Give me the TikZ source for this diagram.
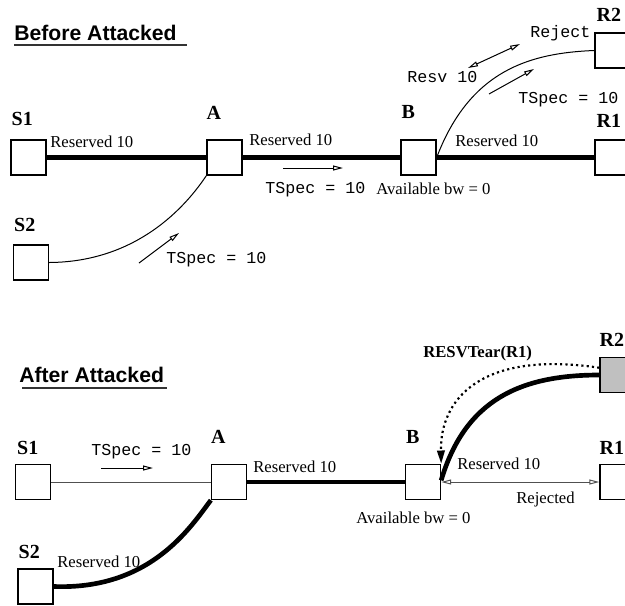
\documentclass[tikz,border=0pt]{standalone}
\usepackage{fontspec}
\setmainfont{Liberation Serif}
\setsansfont{Liberation Sans}
\setmonofont{Liberation Mono}
\usetikzlibrary{arrows.meta, positioning, calc}
\definecolor{torn}{RGB}{192, 192, 192}
\definecolor{faint}{RGB}{80, 80, 80}

\begin{document}
\begin{tikzpicture}[
  x=0.6pt, y=-0.6pt,
  box/.style={rectangle, draw, line width=0.8pt, minimum size=21pt, inner sep=0pt},
  tag/.style={inner sep=0pt, font=\bfseries\fontsize{12}{14}\selectfont},
  txt/.style={inner sep=0pt, anchor=base west, font=\fontsize{10}{12}\selectfont},
  spec/.style={inner sep=0pt, anchor=base west, font=\ttfamily\fontsize{10}{12}\selectfont},
  heading/.style={inner sep=0pt, anchor=base west, font=\sffamily\bfseries\fontsize{12.7}{15}\selectfont},
  resv/.style={line width=2.8pt},
  link/.style={line width=0.6pt},
  hint/.style={-{Triangle[open, length=6pt, width=3pt]}, line width=0.6pt},
  tear/.style={-{Triangle[length=8pt, width=4.5pt]}, line width=1.3pt, dash pattern=on 1.3pt off 1.9pt}
]
  \clip (0,0) rectangle (625,605);

  % before attacked
  \node[heading] (before) at (14,40) {Before Attacked};
  \draw[line width=1pt, black!80] ($(before.base west)+(0,-3pt)$) -- ($(before.base east)+(6pt,-3pt)$);

  \node[box] (s1) at (28.5,157.5) {};
  \node[box] (a) at (224.5,157.5) {};
  \node[box] (b) at (418.5,157.5) {};
  \node[box] (r1) at (612.5,157.5) {};
  \node[box] (r2) at (612.5,50.5) {};
  \node[box] (s2) at (31,262.5) {};

  \node[tag, above right=7.8pt and 0.6pt of s1.north west] (s1-tag) {S1};
  \node[tag, above right=12pt and 0pt of a.north west] (a-tag) {A};
  \node[tag, above right=12pt and 0.6pt of b.north west] (b-tag) {B};
  \node[tag, above right=7.2pt and 1.2pt of r1.north west] (r1-tag) {R1};
  \node[tag, above right=6.6pt and 1.2pt of r2.north west] (r2-tag) {R2};
  \node[tag, above right=7.2pt and 0.6pt of s2.north west] (s2-tag) {S2};

  \draw[resv] (s1) -- (a);
  \draw[resv] (a) -- (b);
  \draw[resv] (b) -- (r1);
  \draw[link] (b.east) .. controls (470,70) and (530,53) .. (r2.west);
  \draw[link] (s2.east) .. controls (130,262) and (180,215) .. (a.south west);

  \node[txt] (res-s1a) at (50,147) {Reserved 10};
  \node[txt] (res-ab) at (249,145) {Reserved 10};
  \node[txt] (res-br1) at (455,146) {Reserved 10};
  \node[spec] (spec-ab) at (265,193) {TSpec = 10};
  \node[txt] (bw-b) at (376,194) {Available bw = 0};
  \node[spec] (reject) at (530,37) {Reject};
  \node[spec] (resv-b) at (407,82) {Resv 10};
  \node[spec] (spec-r2) at (518,103) {TSpec = 10};
  \node[spec] (spec-s2) at (166,263) {TSpec = 10};

  \draw[hint] (283,168) -- (343,168);
  \draw[hint] (139,263) -- (179,233);
  \draw[hint] (489,94) -- (534,69);
  \draw[hint, {Triangle[open, length=6pt, width=3pt]}-{Triangle[open, length=6pt, width=3pt]}] (468,68) -- (520,44);

  % after attacked
  \node[heading] (after) at (19,382) {After Attacked};
  \draw[line width=1pt, black!80] ($(after.base west)+(1.8pt,-3.6pt)$) -- ($(after.base east)+(1.8pt,-3.6pt)$);

  \node[box] (s1x) at (33,482) {};
  \node[box] (ax) at (229,482) {};
  \node[box] (bx) at (423,482) {};
  \node[box] (r1x) at (617.5,482) {};
  \node[box, fill=torn] (r2x) at (617.5,375) {};
  \node[box] (s2x) at (35.5,586.5) {};

  \node[tag, above right=5.4pt and 1.2pt of s1x.north west] (s1x-tag) {S1};
  \node[tag, above right=12pt and 0pt of ax.north west] (ax-tag) {A};
  \node[tag, above right=12pt and 0.6pt of bx.north west] (bx-tag) {B};
  \node[tag, above right=5.4pt and 0pt of r1x.north west] (r1x-tag) {R1};
  \node[tag, above right=6pt and 0pt of r2x.north west] (r2x-tag) {R2};
  \node[tag, above right=5.4pt and 0.6pt of s2x.north west] (s2x-tag) {S2};

  \draw[link, faint] (s1x) -- (ax);
  \draw[resv] (ax) -- (bx);
  \draw[link, faint, {Triangle[open, length=6pt, width=3pt]}-{Triangle[open, length=6pt, width=3pt]}] (bx) -- (r1x);
  \draw[resv] ([yshift=1pt]bx.east) .. controls (465,400) and (520,375) .. (r2x.west);
  \draw[resv] (s2x.east) .. controls (150,590) and (190,528) .. (ax.south west);
  \draw[tear] ($(r2x.north west)!0.3!(r2x.south west)$) .. controls (480,350) and (440,400) .. (bx.north east);

  \node[spec] (spec-s1x) at (91,455) {TSpec = 10};
  \node[txt] (res-axbx) at (253,472) {Reserved 10};
  \node[txt] (res-s2x) at (57,567) {Reserved 10};
  \node[txt, font=\bfseries\fontsize{10}{12}\selectfont] (teardown) at (423,357) {RESVTear(R1)};
  \node[txt] (res-bxr1x) at (457,469) {Reserved 10};
  \node[txt] (rejected) at (516,503) {Rejected};
  \node[txt] (bw-bx) at (356,523) {Available bw = 0};

  \draw[hint] (101,468) -- (153,468);
\end{tikzpicture}
\end{document}
